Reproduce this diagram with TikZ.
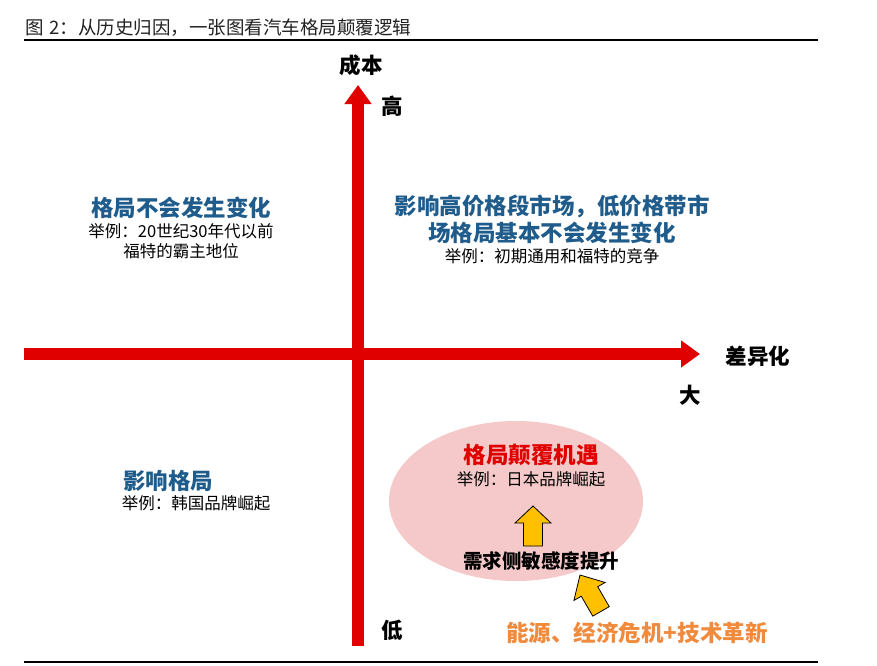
\documentclass[tikz,border=0pt]{standalone}
\usepackage{fontspec}
\setmainfont{Noto Sans CJK SC}
\usetikzlibrary{arrows.meta,shapes.geometric}
\definecolor{axisred}{HTML}{E00000}
\definecolor{qblue}{HTML}{1F5C8B}
\definecolor{pinkfill}{HTML}{F5C9C9}
\definecolor{yarrow}{HTML}{FFC000}
\definecolor{orangetxt}{HTML}{F08A3C}
\definecolor{titlegray}{HTML}{222222}
\tikzset{
  axis/.style={draw=axisred, line width=12pt, -{Triangle[width=26pt,length=19pt]}},
  head/.style={font=\bfseries\fontsize{22.5}{27}\selectfont, text=qblue, align=center, inner sep=0pt},
  sub/.style={font=\fontsize{16.5}{20}\selectfont, text=black, align=center, inner sep=0pt},
  lbl/.style={font=\bfseries\fontsize{21.5}{23}\selectfont, text=black, inner sep=0pt},
  yarr/.style={draw=black, line width=0.8pt, fill=yarrow, line join=miter}
}
\begin{document}
\begin{tikzpicture}[x=1pt,y=-1pt]
\useasboundingbox (0,0) rectangle (877,665);
% title and rules
\node[anchor=west, inner sep=0pt, text=titlegray, font=\fontsize{18.5}{20}\selectfont] (title) at (25,28) {图\hspace{6pt}2：从历史归因，一张图看汽车格局颠覆逻辑};
\coordinate (tl) at (24,40); \coordinate (tr) at (818,40);
\draw[line width=2pt] (tl) -- (tr);
\coordinate (bl) at (24,662); \coordinate (br) at (818,662);
\draw[line width=2.5pt] (bl) -- (br);
% ellipse
\node[ellipse, fill=pinkfill, minimum width=254pt, minimum height=160pt, inner sep=0pt] (ell) at (516,501) {};
% axes
\coordinate (vbot) at (358,646); \coordinate (vtop) at (358,85);
\coordinate (hl) at (24,354); \coordinate (hr) at (700,354);
\draw[axis] (vbot) -- (vtop);
\draw[axis] (hl) -- (hr);
% axis labels
\node[lbl] (cost) at (361,65) {成本};
\node[lbl] (high) at (392,106) {高};
\node[lbl] (diff) at (758,356) {差异化};
\node[lbl] (big) at (690,395) {大};
\node[lbl] (low) at (392,630) {低};
% quadrant texts
\node[head] (q1) at (181,208) {格局不会发生变化};
\node[sub] (q1s) at (181,241) {举例：20世纪30年代以前\\福特的霸主地位};
\node[head] (q2) at (552,219) {影响高价格段市场，低价格带市\\场格局基本不会发生变化};
\node[sub] (q2s) at (552,256) {举例：初期通用和福特的竞争};
\node[head] (q3) at (168,481) {影响格局};
\node[sub] (q3s) at (196,503) {举例：韩国品牌崛起};
\node[head, text=axisred] (q4) at (531,455) {格局颠覆机遇};
\node[sub] (q4s) at (531,479) {举例：日本品牌崛起};
\node[lbl, font=\bfseries\fontsize{19.5}{21}\selectfont] (demand) at (541,561) {需求侧敏感度提升};
\node[head, text=orangetxt] (energy) at (637,633) {能源、经济危机+技术革新};
% yellow block arrows
\coordinate (uatip) at (533,506);
\draw[yarr] (uatip) -- ++(18,17) -- ++(-8.5,0) -- ++(0,23) -- ++(-19,0) -- ++(0,-23) -- ++(-8.5,0) -- cycle;
\coordinate (datip) at (580,575);
\begin{scope}[shift={(datip)}, rotate=30]
\draw[yarr] (0,0) -- (18,19) -- (9.5,19) -- (9.5,42) -- (-9.5,42) -- (-9.5,19) -- (-18,19) -- cycle;
\end{scope}
\end{tikzpicture}
\end{document}
